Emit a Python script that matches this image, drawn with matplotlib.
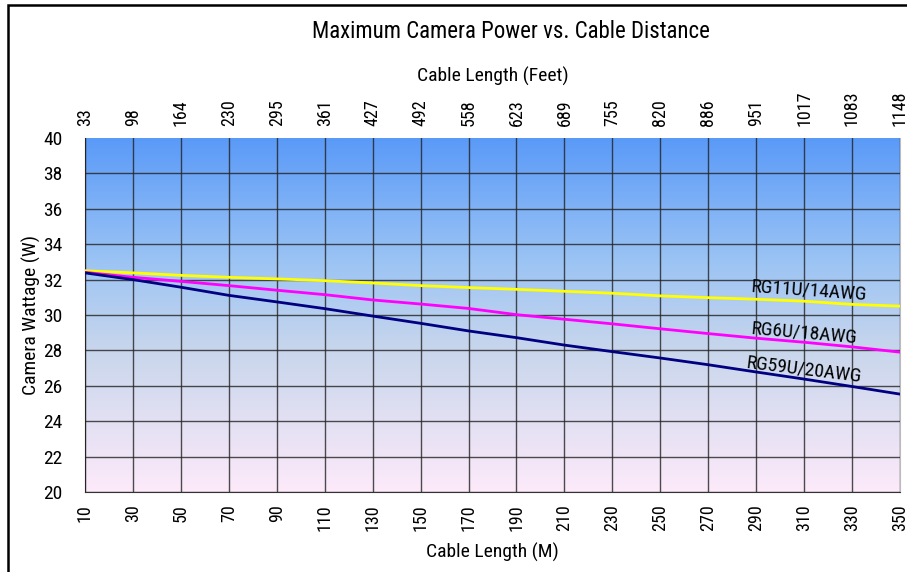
import matplotlib
matplotlib.use("Agg")
import matplotlib.pyplot as plt
import numpy as np
from matplotlib.colors import LinearSegmentedColormap
from matplotlib.patches import Rectangle
from matplotlib import font_manager

# ---- data ----
length_m = [10, 30, 50, 70, 90, 110, 130, 150, 170, 190, 210, 230, 250, 270, 290, 310, 330, 350]
length_ft_labels = ["33", "98", "164", "230", "295", "361", "427", "492", "558", "623",
                    "689", "755", "820", "886", "951", "1017", "1083", "1148"]
rg11u = [32.50, 32.38, 32.24, 32.13, 32.04, 31.94, 31.81, 31.66, 31.55, 31.45,
         31.34, 31.23, 31.08, 30.98, 30.89, 30.78, 30.60, 30.50]
rg6u = [32.41, 32.13, 31.90, 31.66, 31.40, 31.15, 30.85, 30.62, 30.37, 30.02,
        29.76, 29.50, 29.22, 28.95, 28.69, 28.46, 28.20, 27.90]
rg59u = [32.38, 32.00, 31.57, 31.11, 30.74, 30.36, 29.94, 29.53, 29.10, 28.72,
         28.30, 27.93, 27.57, 27.19, 26.78, 26.38, 25.96, 25.53]
series_names = ["RG11U/14AWG", "RG6U/18AWG", "RG59U/20AWG"]
y_ticks = list(range(20, 41, 2))

# pick a condensed font if one is installed
fonts = font_manager.fontManager.ttflist
names = {f.name for f in fonts}
chosen = None
for cand in ["Liberation Sans Narrow", "Roboto Condensed", "Open Sans Condensed",
             "DejaVu Sans Condensed", "Noto Sans Condensed"]:
    if cand in names:
        chosen = cand
        break
stretch = "normal"
if chosen is None:
    for f in fonts:
        if ("Condensed" in f.name or "Narrow" in f.name) and f.style == "normal":
            chosen = f.name
            break
if chosen is None:
    for f in fonts:
        if str(f.stretch) in ("condensed", "semi-condensed", "extra-condensed") \
                or (isinstance(f.stretch, int) and f.stretch < 500):
            chosen = f.name
            stretch = f.stretch
            break
if chosen is None:
    chosen = "DejaVu Sans"
plt.rcParams['font.family'] = [chosen, 'DejaVu Sans']
plt.rcParams['font.stretch'] = stretch

fig = plt.figure(figsize=(9.07, 5.72), dpi=100)
fig.patch.set_facecolor("white")

# figure border
fig.add_artist(Rectangle((8 / 907, -0.1), 1.2, 1.1 - 5 / 572,
                         transform=fig.transFigure, fill=False,
                         edgecolor="black", linewidth=1.8))

ax = fig.add_axes([85 / 907, 1 - 492 / 572, 815 / 907, 354 / 572])

# gradient background (top blue -> bottom pink)
cmap = LinearSegmentedColormap.from_list(
    "bg", [(0.0, "#5a9af8"), (0.35, "#9cc4f4"), (0.6, "#c8d6ec"), (1.0, "#fdeafa")])
grad = np.linspace(0, 1, 256).reshape(-1, 1)
ax.imshow(grad, cmap=cmap, aspect="auto", extent=[10, 350, 20, 40],
          origin="upper", zorder=0, interpolation="bilinear")

ax.set_xlim(10, 350)
ax.set_ylim(20, 40)
ax.set_xticks(length_m)
ax.set_xticklabels([str(v) for v in length_m], rotation=90, fontsize=13)
ax.set_yticks(y_ticks)
ax.set_yticklabels([str(v) for v in y_ticks], fontsize=14)
ax.tick_params(axis="x", length=0, pad=9)
ax.tick_params(axis="y", length=0, pad=16)
ax.grid(True, color="#222222", linewidth=1.0, alpha=0.8, zorder=1)
ax.set_axisbelow(False)
ax.yaxis.get_gridlines()[-1].set_visible(False)

ax.spines["top"].set_visible(False)
ax.spines["right"].set_color("#bbbbbb")
ax.spines["left"].set_color("#333333")
ax.spines["bottom"].set_color("#333333")

ax.plot(length_m, rg11u, color="#ffff00", linewidth=2, zorder=3)
ax.plot(length_m, rg6u, color="#ff00ff", linewidth=2, zorder=3)
ax.plot(length_m, rg59u, color="#000080", linewidth=2, zorder=3)

ax.text(312, 31.4, series_names[0], fontsize=14, rotation=-4, ha="center", va="center", zorder=4)
ax.text(310, 29.0, series_names[1], fontsize=14, rotation=-5, ha="center", va="center", zorder=4)
ax.text(310, 26.9, series_names[2], fontsize=14, rotation=-7, ha="center", va="center", zorder=4)

ax.set_xlabel("Cable Length (M)", fontsize=14, labelpad=8)
ax.set_ylabel("Camera Wattage (W)", fontsize=14, labelpad=2)

# top axis in feet
ax2 = ax.twiny()
ax2.set_xlim(ax.get_xlim())
ax2.set_xticks(length_m)
ax2.set_xticklabels(length_ft_labels, rotation=90, fontsize=13)
ax2.tick_params(axis="x", length=0, pad=9)
for sp in ax2.spines.values():
    sp.set_visible(False)
ax2.set_xlabel("Cable Length (Feet)", fontsize=14, labelpad=6)

fig.text(511 / 907, 1 - 32 / 572, "Maximum Camera Power vs. Cable Distance",
         fontsize=16.5, ha="center", va="center")

fig.savefig("out.png", dpi=100)
